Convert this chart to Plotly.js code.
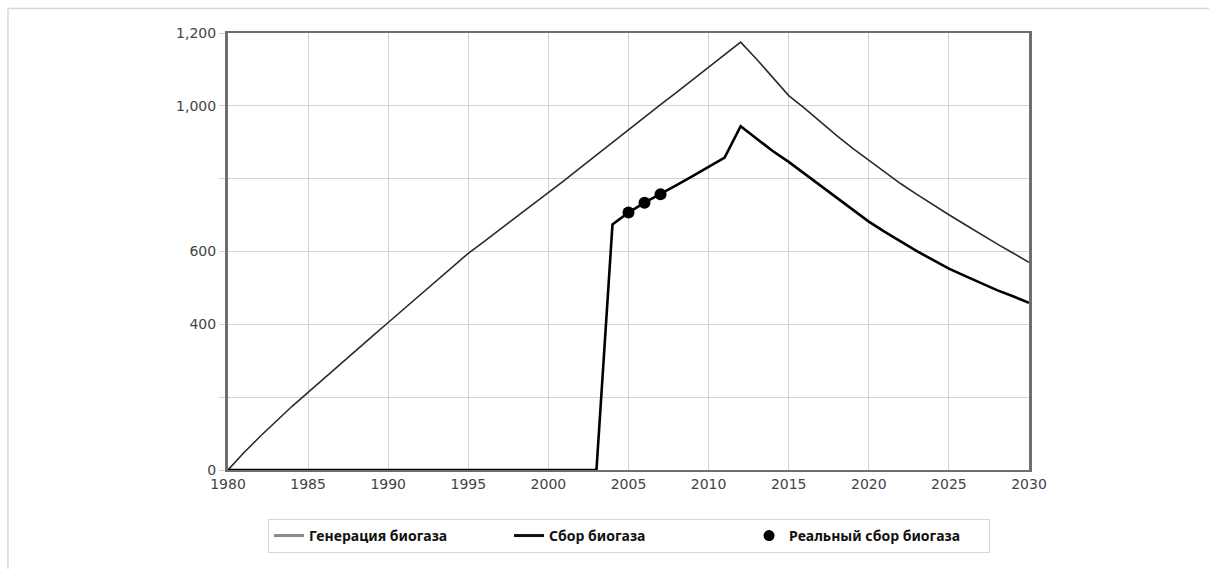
<!DOCTYPE html>
<html>
<head>
<meta charset="utf-8">
<script src="https://cdn.plot.ly/plotly-3.0.1.min.js"></script>
<style>html,body{margin:0;padding:0;background:#fff;}#chart{width:1209px;height:569px;}</style>
</head>
<body>
<div id="chart"></div>
<script>
// Years
const years = [1980,1981,1982,1983,1984,1985,1986,1987,1988,1989,1990,1991,1992,1993,1994,1995,1996,1997,1998,1999,2000,2001,2002,2003,2004,2005,2006,2007,2008,2009,2010,2011,2012,2013,2014,2015,2016,2017,2018,2019,2020,2021,2022,2023,2024,2025,2026,2027,2028,2029,2030];
// Biogas generation
const generation = [0,48,92,134,175,213,252,290,329,367,405,443,481,519,557,595,628,661,694,727,760,795,830,865,900,935,969,1003,1037,1071,1105,1140,1175,1128,1078,1028,993,955,918,883,850,818,786,757,728,701,674,647,621,596,570];
// Biogas collection
const collection = [0,0,0,0,0,0,0,0,0,0,0,0,0,0,0,0,0,0,0,0,0,0,0,0,674,707,734,757,782,807,833,858,944,910,876,846,813,780,747,714,682,654,627,601,577,553,533,513,494,477,459];
// Real collection measurements
const realYears = [2005,2006,2007];
const realValues = [707,734,757];
// Axis ticks
const xTicks = [1980,1985,1990,1995,2000,2005,2010,2015,2020,2025,2030];
const yTicks = [0,200,400,600,800,1000,1200];
const yTickText = ['0','','400','600','','1,000','1,200'];
const names = ['Генерация биогаза','Сбор биогаза','Реальный сбор биогаза'];

const traces = [
  {x: years, y: generation, mode: 'lines', name: names[0], line: {color: '#2a2a2a', width: 1.6}, showlegend: false},
  {x: years, y: collection, mode: 'lines', name: names[1], line: {color: '#000000', width: 2.6}, showlegend: false},
  {x: realYears, y: realValues, mode: 'markers', name: names[2], marker: {color: '#000', size: 12}, showlegend: false},
  // legend-only entries (styled like the reference legend)
  {x: [null], y: [null], mode: 'lines', name: names[0], line: {color: '#8a8a8a', width: 3}},
  {x: [null], y: [null], mode: 'lines', name: names[1], line: {color: '#111', width: 3}},
  {x: [null], y: [null], mode: 'markers', name: names[2], marker: {color: '#000', size: 11}}
];

const layout = {
  width: 1209, height: 569,
  margin: {l: 228, r: 180, t: 33, b: 99, autoexpand: false},
  paper_bgcolor: '#fff', plot_bgcolor: '#fff',
  font: {family: 'DejaVu Sans, sans-serif', color: '#444', size: 14},
  xaxis: {
    range: [1980, 2030], tickvals: xTicks, ticktext: xTicks.map(String),
    showgrid: true, gridcolor: '#d2d2d2', gridwidth: 1,
    zeroline: false, showline: true, mirror: true, linecolor: '#6e6e6e', linewidth: 2,
    ticks: '', automargin: false,
    tickfont: {family: 'DejaVu Sans, sans-serif', size: 14, color: '#444'}
  },
  yaxis: {
    range: [0, 1200], tickvals: yTicks, ticktext: yTickText,
    showgrid: true, gridcolor: '#d2d2d2', gridwidth: 1,
    zeroline: false, showline: true, mirror: true, linecolor: '#6e6e6e', linewidth: 3,
    ticks: 'outside', ticklen: 6, tickcolor: '#d2d2d2', automargin: false,
    tickfont: {family: 'DejaVu Sans, sans-serif', size: 14, color: '#444'}
  },
  showlegend: true,
  legend: {
    orientation: 'h', x: 0.05, xanchor: 'left', y: -0.112, yanchor: 'top',
    bordercolor: '#d6d6d6', borderwidth: 1, bgcolor: '#fff',
    font: {family: 'Noto Sans, sans-serif', size: 14, color: '#111', weight: 'bold'},
    entrywidth: 195, entrywidthmode: 'pixels', itemwidth: 30, traceorder: 'normal'
  },
  shapes: [
    {type: 'line', xref: 'paper', yref: 'paper', x0: -0.2747, x1: 1.2247, y0: 1.056, y1: 1.056, line: {color: '#d8d8d8', width: 1.5}},
    {type: 'line', xref: 'paper', yref: 'paper', x0: -0.2747, x1: -0.2747, y0: 1.056, y1: -0.23, line: {color: '#d8d8d8', width: 1.5}}
  ]
};

Plotly.newPlot('chart', traces, layout, {displayModeBar: false, staticPlot: true});
</script>
</body>
</html>
